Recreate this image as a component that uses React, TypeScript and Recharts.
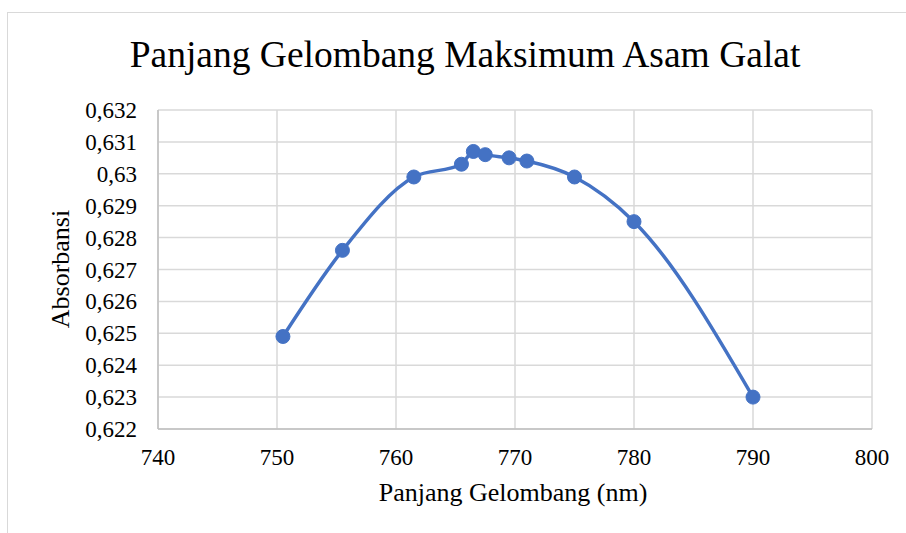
import { CartesianGrid, Line, LineChart, XAxis, YAxis } from "recharts";

const wavelengths = [750.5, 755.5, 761.5, 765.5, 766.5, 767.5, 769.5, 771, 775, 780, 790];
const absorbance = [0.6249, 0.6276, 0.6299, 0.6303, 0.6307, 0.6306, 0.6305, 0.6304, 0.6299, 0.6285, 0.623];

const X_TICKS = [740, 750, 760, 770, 780, 790, 800];
const Y_TICKS = [0.622, 0.623, 0.624, 0.625, 0.626, 0.627, 0.628, 0.629, 0.63, 0.631, 0.632];

const TITLE = "Panjang Gelombang Maksimum Asam Galat";
const X_TITLE = "Panjang Gelombang (nm)";
const Y_TITLE = "Absorbansi";

const FONT = "Liberation Serif, Times New Roman, serif";
const BLUE = "#4472C4";

const data = wavelengths.map((x, i) => ({ x, y: absorbance[i] }));

// Excel "General" format with a decimal comma: 0.630 -> "0,63"
const fmtY = (v: number) => String(Number(v.toFixed(3))).replace(".", ",");

function XTick(props: any) {
  const { x, y, payload } = props;
  return (
    <text
      x={x}
      y={y}
      dy={16}
      textAnchor="middle"
      fill="#000"
      style={{ fontFamily: FONT, fontSize: 23 }}
    >
      {payload.value}
    </text>
  );
}

function YTick(props: any) {
  const { x, y, payload } = props;
  return (
    <text
      x={x}
      y={y}
      dy={8}
      textAnchor="end"
      fill="#000"
      style={{ fontFamily: FONT, fontSize: 23 }}
    >
      {fmtY(payload.value)}
    </text>
  );
}

export default function App() {
  return (
    <div
      style={{
        position: "fixed",
        left: 0,
        top: 0,
        width: 906,
        height: 533,
        overflow: "hidden",
        background: "#fff",
        fontFamily: FONT,
      }}
    >
      <div
        style={{
          position: "absolute",
          left: 7,
          top: 12,
          width: 916,
          height: 560,
          border: "1px solid #d9d9d9",
        }}
      />
      <div
        style={{
          position: "absolute",
          left: 0,
          top: 34,
          width: 930,
          textAlign: "center",
          fontSize: 37.5,
          lineHeight: "42px",
          color: "#000",
        }}
      >
        {TITLE}
      </div>
      <div
        style={{
          position: "absolute",
          left: 313,
          top: 478,
          width: 400,
          textAlign: "center",
          fontSize: 26,
          lineHeight: "30px",
          color: "#000",
        }}
      >
        {X_TITLE}
      </div>
      <div
        style={{
          position: "absolute",
          left: 61 - 100,
          top: 269 - 15,
          width: 200,
          height: 30,
          textAlign: "center",
          fontSize: 26,
          lineHeight: "30px",
          color: "#000",
          transform: "rotate(-90deg)",
        }}
      >
        {Y_TITLE}
      </div>
      <div style={{ position: "absolute", left: 0, top: 0 }}>
        <LineChart
          width={906}
          height={533}
          data={data}
          margin={{ top: 110, right: 34, bottom: 74, left: 78 }}
        >
          <CartesianGrid stroke="#d9d9d9" strokeWidth={1.5} />
          <XAxis
            type="number"
            dataKey="x"
            domain={[740, 800]}
            ticks={X_TICKS}
            interval={0}
            height={30}
            tickLine={false}
            tickSize={0}
            tickMargin={20}
            axisLine={{ stroke: "#bfbfbf", strokeWidth: 1.5 }}
            tick={<XTick />}
          />
          <YAxis
            type="number"
            dataKey="y"
            domain={[0.622, 0.632]}
            ticks={Y_TICKS}
            interval={0}
            width={80}
            tickLine={false}
            tickSize={0}
            tickMargin={21}
            axisLine={{ stroke: "#bfbfbf", strokeWidth: 1.5 }}
            tick={<YTick />}
          />
          <Line
            type="monotone"
            dataKey="y"
            stroke={BLUE}
            strokeWidth={3.5}
            dot={{ r: 7, fill: BLUE, stroke: BLUE, strokeWidth: 1 }}
            isAnimationActive={false}
          />
        </LineChart>
      </div>
    </div>
  );
}
